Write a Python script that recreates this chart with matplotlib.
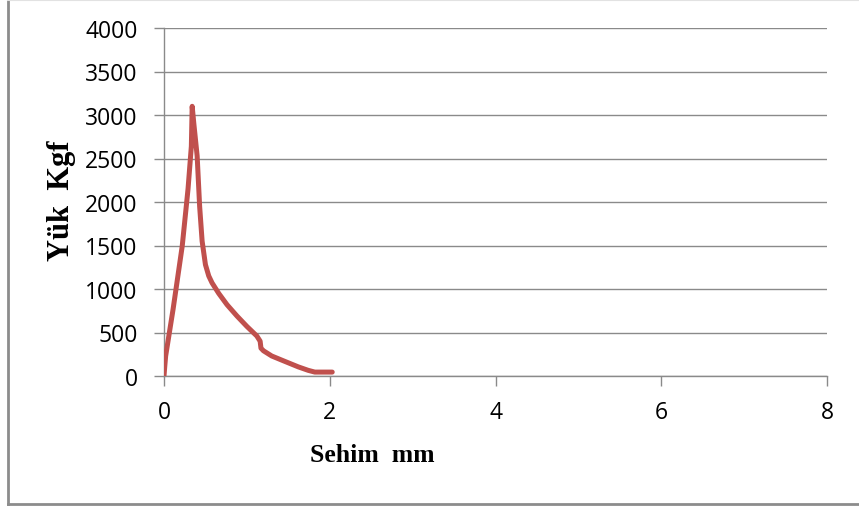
import matplotlib
matplotlib.use("Agg")
import matplotlib.pyplot as plt
from matplotlib.lines import Line2D

# Load–deflection curve
sehim_mm = [0.00, 0.01, 0.02, 0.11, 0.22, 0.29, 0.33, 0.34, 0.36, 0.40, 0.43,
            0.46, 0.50, 0.54, 0.58, 0.66, 0.76, 0.88, 1.00, 1.12, 1.16, 1.17,
            1.20, 1.30, 1.44, 1.62, 1.74, 1.82, 2.03]
yuk_kgf = [0, 120, 230, 770, 1494, 2150, 2640, 3100, 2900, 2530, 1950,
           1550, 1280, 1150, 1070, 950, 820, 690, 570, 460, 400, 320,
           290, 230, 175, 105, 65, 45, 45]

x_ticks = [0, 2, 4, 6, 8]
y_ticks = [0, 500, 1000, 1500, 2000, 2500, 3000, 3500, 4000]

W, H = 859, 510
fig = plt.figure(figsize=(W / 100, H / 100), dpi=100)
fig.patch.set_facecolor("white")

ax = fig.add_axes([164 / W, (H - 377) / H, (827 - 164) / W, (377 - 29) / H])
ax.plot(sehim_mm, yuk_kgf, color="#C0504D", lw=3.6, solid_joinstyle="round",
        solid_capstyle="round", zorder=3)

ax.set_xlim(0, 8)
ax.set_ylim(0, 4000)
ax.set_xticks(x_ticks)
ax.set_yticks(y_ticks)
ax.set_xticklabels([str(v) for v in x_ticks])
ax.set_yticklabels([str(v) for v in y_ticks])

grid_c = "#8a8a8a"
ax.yaxis.grid(True, color=grid_c, lw=1.0)
ax.set_axisbelow(True)
for s in ["top", "right"]:
    ax.spines[s].set_visible(False)
for s in ["left", "bottom"]:
    ax.spines[s].set_color(grid_c)
    ax.spines[s].set_linewidth(1.0)
ax.tick_params(axis="both", direction="out", length=7, width=1.0, color=grid_c,
               labelsize=16.5)
for lab in ax.get_xticklabels() + ax.get_yticklabels():
    lab.set_fontfamily(["Open Sans", "DejaVu Sans"])
ax.tick_params(axis="y", pad=12)
ax.tick_params(axis="x", pad=10)

fig.text(372 / W, 1 - 455 / H, "Sehim  mm", ha="center", va="center",
         fontsize=18.5, fontweight="bold", family=["Liberation Serif", "DejaVu Serif"])
fig.text(61 / W, 1 - 201 / H, "Yük  Kgf", ha="center", va="center", rotation=90,
         fontsize=22, fontweight="bold", family=["Liberation Serif", "DejaVu Serif"])

# Chart-area frame
fig.add_artist(Line2D([7.5 / W, 7.5 / W], [(H - 505) / H, 1.0],
                      transform=fig.transFigure, color="#8c8c8c", lw=2))
fig.add_artist(Line2D([7.5 / W, 1.0], [(H - 505) / H, (H - 505) / H],
                      transform=fig.transFigure, color="#8c8c8c", lw=2))
fig.add_artist(Line2D([7.5 / W, 1.0], [1 - 0.8 / H, 1 - 0.8 / H],
                      transform=fig.transFigure, color="#e2e2e2", lw=1.5))

fig.savefig("out.png", dpi=100, facecolor="white")
